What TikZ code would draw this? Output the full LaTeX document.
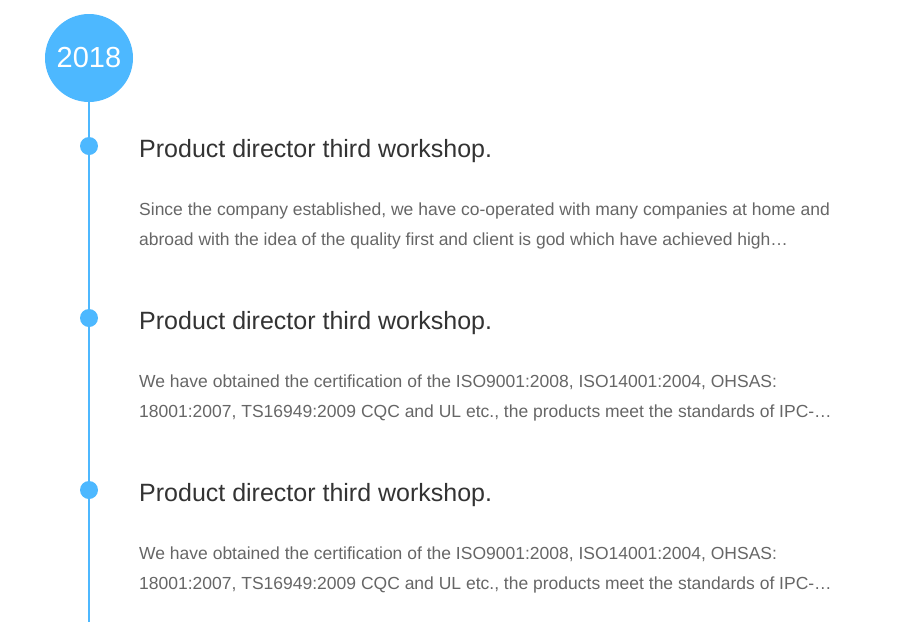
\documentclass[tikz,border=0pt]{standalone}
\usepackage{fontspec}
\setmainfont{Liberation Sans}
\usetikzlibrary{positioning}

\definecolor{lineblue}{HTML}{4DB8FF}
\definecolor{titlegray}{HTML}{333333}
\definecolor{textgray}{HTML}{666666}

\tikzset{
  yearball/.style={circle, fill=lineblue, minimum size=88pt, inner sep=0pt, text=white, font=\fontsize{29}{29}\selectfont},
  dotmark/.style={circle, fill=lineblue, minimum size=18pt, inner sep=0pt},
  headline/.style={anchor=base west, inner sep=0pt, text=titlegray, font=\fontsize{25}{25}\selectfont},
  bodyline/.style={anchor=base west, inner sep=0pt, text=textgray, font=\fontsize{17.5}{17.5}\selectfont},
  timeline/.style={draw=lineblue, line width=2pt}
}

\begin{document}
\begin{tikzpicture}[x=1pt, y=-1pt]
    \useasboundingbox (0,0) rectangle (911,622);

    % Year and line
    \coordinate (bottom) at (89,622);
    \draw[timeline] (89,58) -- (bottom);
    \node[yearball] (year) at (89,58) {2018};

    % Dots
    \node[dotmark] (dot1) at (89,146) {};
    \node[dotmark] (dot2) at (89,318) {};
    \node[dotmark] (dot3) at (89,490) {};

    % Titles
    \node[headline] (title1) at (139,157) {Product director third workshop.};
    \node[headline] (title2) at (139,329) {Product director third workshop.};
    \node[headline] (title3) at (139,501) {Product director third workshop.};

    % Texts
    \node[bodyline] (text1a) at (139,215) {Since the company established, we have co-operated with many companies at home and};
    \node[bodyline] (text1b) at (139,245) {abroad with the idea of the quality first and client is god which have achieved high…};
    \node[bodyline] (text2a) at (139,387) {We have obtained the certification of the ISO9001:2008, ISO14001:2004, OHSAS:};
    \node[bodyline] (text2b) at (139,417) {18001:2007, TS16949:2009 CQC and UL etc., the products meet the standards of IPC-…};
    \node[bodyline] (text3a) at (139,559) {We have obtained the certification of the ISO9001:2008, ISO14001:2004, OHSAS:};
    \node[bodyline] (text3b) at (139,589) {18001:2007, TS16949:2009 CQC and UL etc., the products meet the standards of IPC-…};
  \end{tikzpicture}
\end{document}
